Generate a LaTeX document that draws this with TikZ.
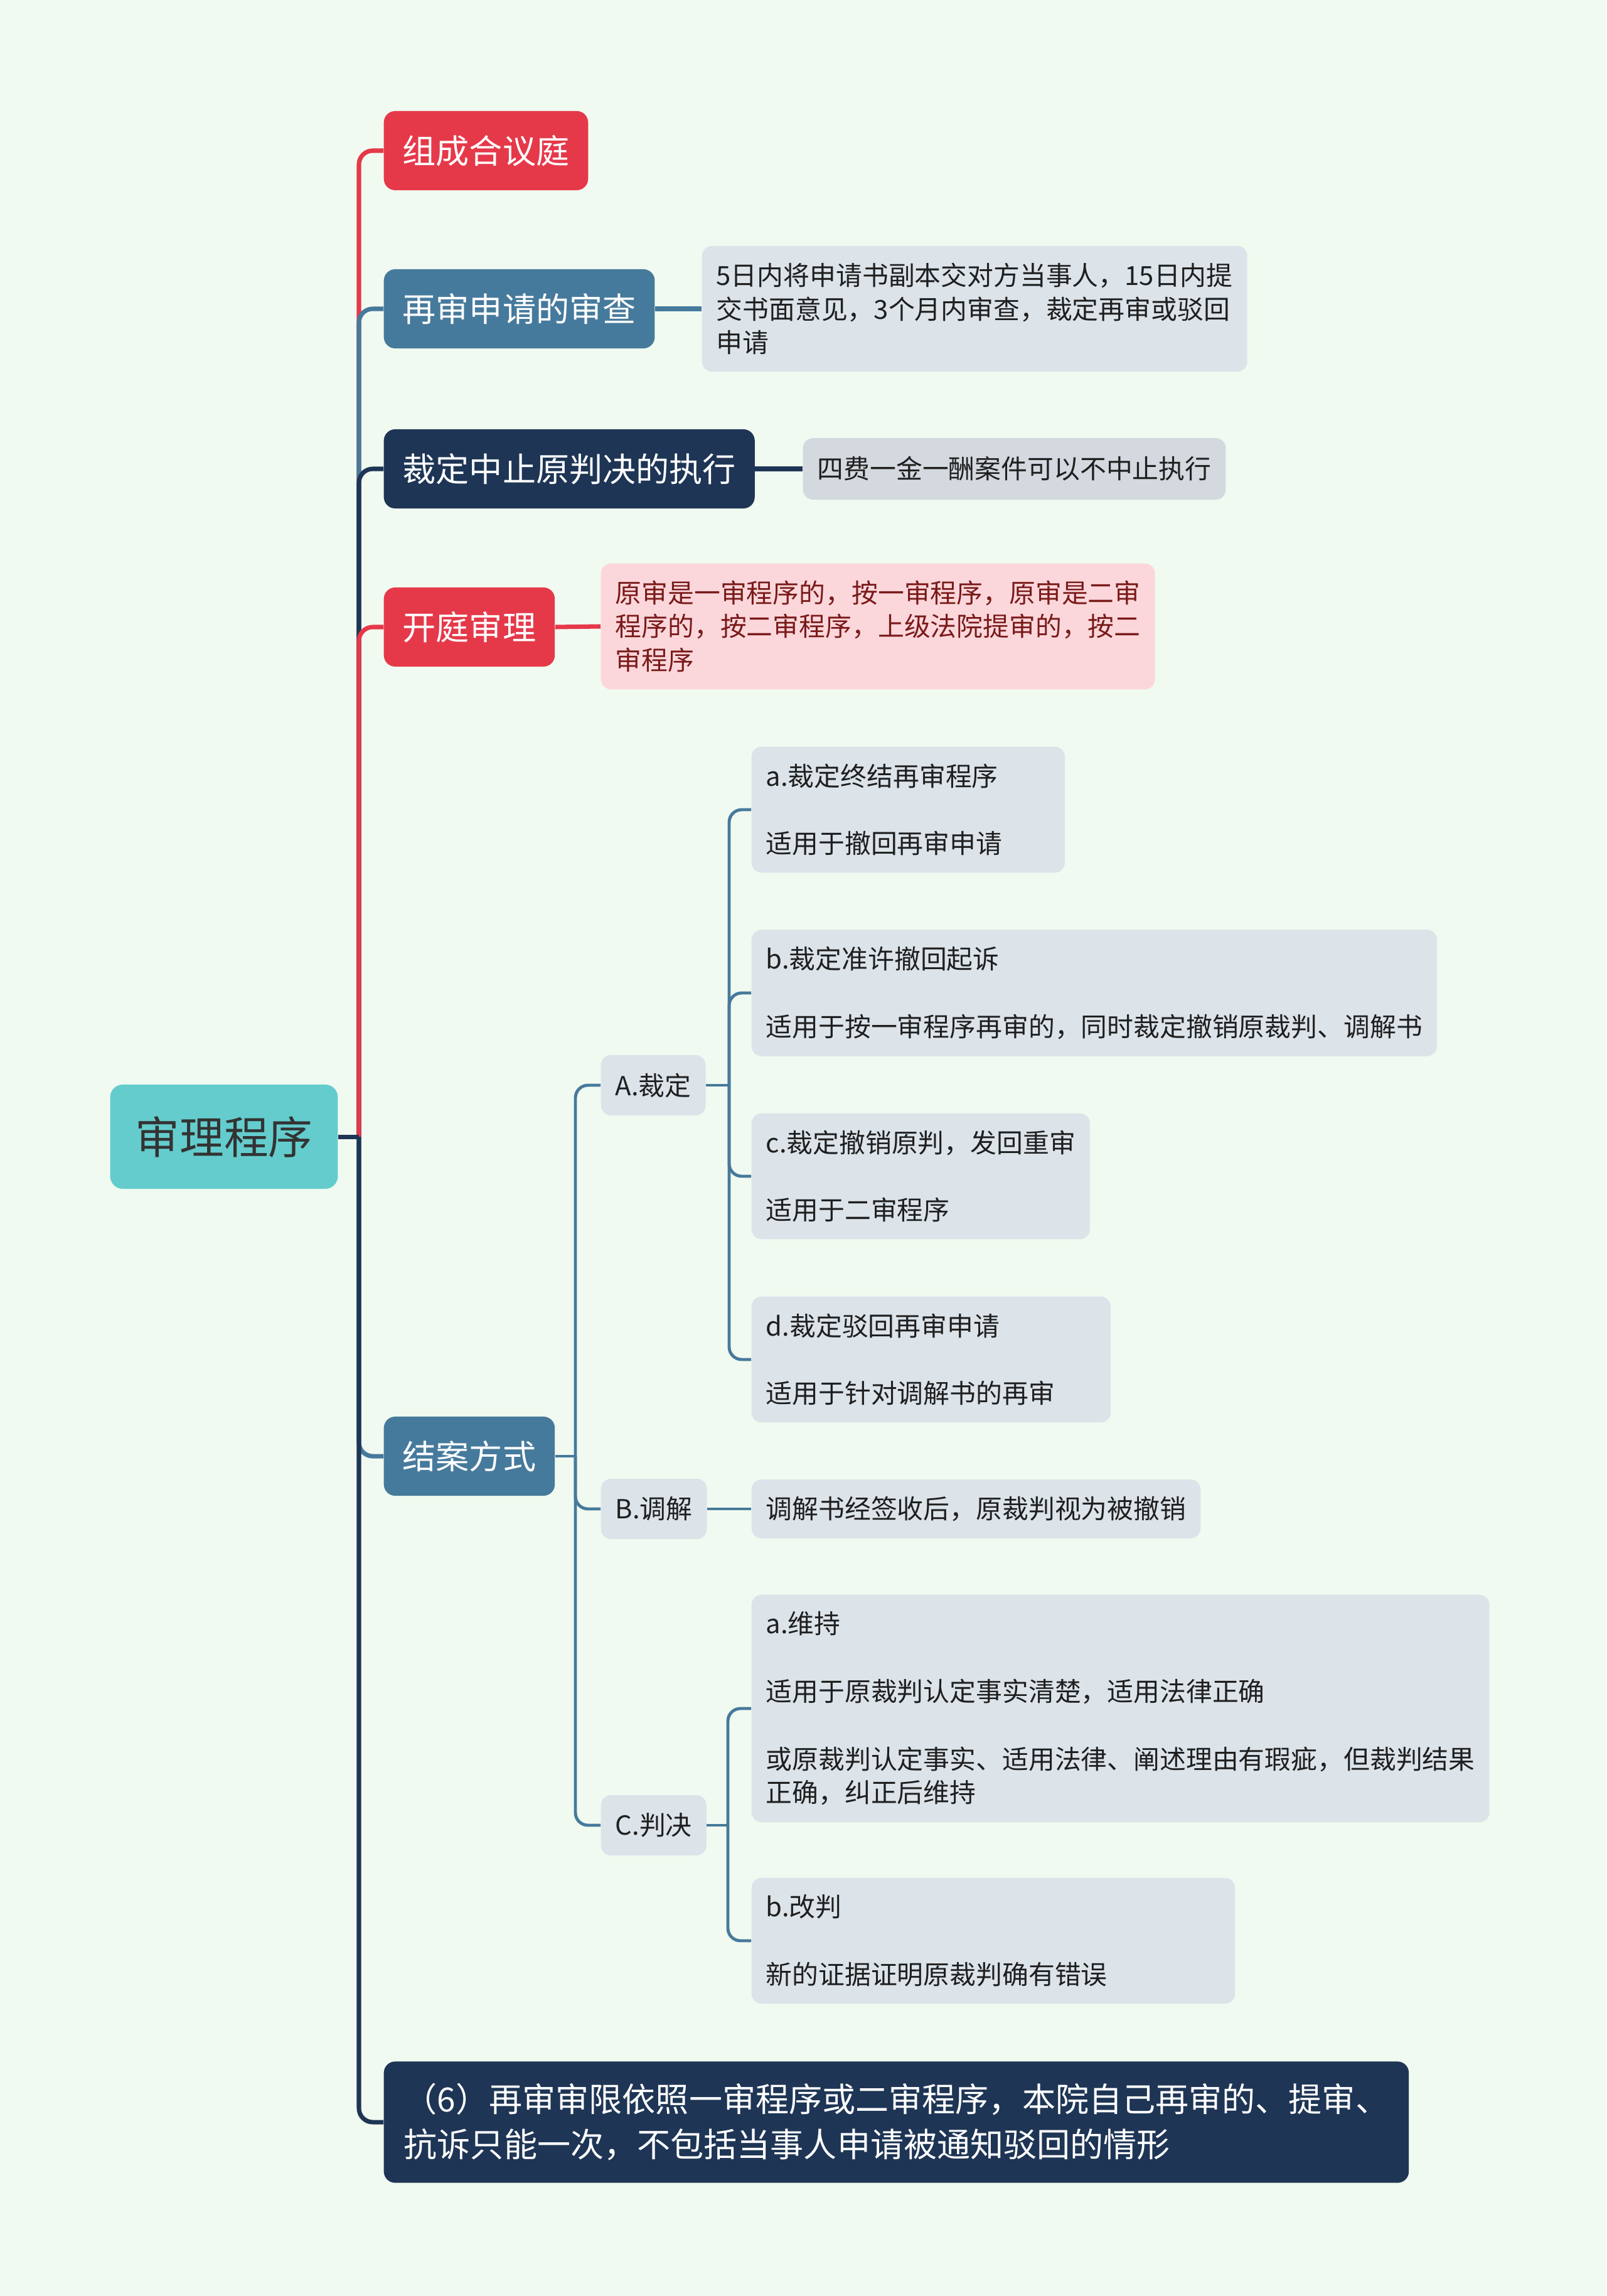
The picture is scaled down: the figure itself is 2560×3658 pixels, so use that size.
\documentclass[tikz,border=0pt]{standalone}
\usepackage{fontspec}
\setmainfont{Noto Sans CJK SC}
\usetikzlibrary{positioning}

\definecolor{bgmint}{HTML}{F1FAF0}
\definecolor{redbr}{HTML}{E5394A}
\definecolor{bluebr}{HTML}{467A9C}
\definecolor{navybr}{HTML}{1E3555}
\definecolor{rootteal}{HTML}{64CCCD}
\definecolor{leafgray}{HTML}{DCE4EA}
\definecolor{leafgrey}{HTML}{D3D9DF}
\definecolor{leafpink}{HTML}{FBD7DB}
\definecolor{pinktext}{HTML}{7A1A1A}

\begin{document}
\begin{tikzpicture}[x=0.01cm, y=-0.01cm,
    root/.style={rectangle, rounded corners=0.2cm, fill=rootteal, text=black!80, minimum height=1.66cm, inner xsep=0.4cm, font=\fontsize{20.1}{24}\selectfont},
    topic/.style={rectangle, rounded corners=0.18cm, text=white, minimum height=1.26cm, inner xsep=0.3cm, font=\fontsize{15.1}{20.5}\selectfont, anchor=west},
    leaf/.style={rectangle, rounded corners=0.16cm, fill=leafgray, text=black!88, align=left, inner xsep=0.23cm, inner ysep=0.27cm, font=\fontsize{11.9}{15.3}\selectfont, anchor=west},
    tag/.style={leaf, minimum height=0.96cm, inner ysep=0pt},
    link/.style={line width=2pt, rounded corners=0.22cm},
    sublink/.style={line width=1.4pt, draw=bluebr, rounded corners=0.2cm}
]

\useasboundingbox[fill=bgmint] (0,0) rectangle (2560,3658);

% Root
\node[root] (root) at (357,1811) {审理程序};

% Main topics
\node[topic, fill=redbr] (panel) at (611,240) {组成合议庭};
\node[topic, fill=bluebr] (review) at (611,492) {再审申请的审查};
\node[topic, fill=navybr] (suspend) at (611,747) {裁定中止原判决的执行};
\node[topic, fill=redbr] (hearing) at (611,999) {开庭审理};
\node[topic, fill=bluebr] (closing) at (611,2320) {结案方式};
\node[topic, fill=navybr, align=left, inner ysep=0.35cm, inner xsep=0.32cm] (timelimit) at (611,3381) {（6）再审审限依照一审程序或二审程序，本院自己再审的、提审、\\抗诉只能一次，不包括当事人申请被通知驳回的情形};

% Notes of the main topics
\node[leaf] (reviewnote) at (1118,492) {5日内将申请书副本交对方当事人，15日内提\\交书面意见，3个月内审查，裁定再审或驳回\\申请};
\node[leaf, fill=leafgrey, minimum height=0.98cm, inner ysep=0pt] (suspendnote) at (1279,747) {四费一金一酬案件可以不中止执行};
\node[leaf, fill=leafpink, text=pinktext] (hearingnote) at (957,998) {原审是一审程序的，按一审程序，原审是二审\\程序的，按二审程序，上级法院提审的，按二\\审程序};

% Ways of closing
\node[tag] (ruling) at (957,1729) {A.裁定};
\node[tag] (mediation) at (957,2404) {B.调解};
\node[tag] (verdict) at (957,2908) {C.判决};

\node[leaf, text width=4.53cm] (ra) at (1197,1290) {a.裁定终结再审程序\\[15.3pt]适用于撤回再审申请};
\node[leaf] (rb) at (1197,1582) {b.裁定准许撤回起诉\\[15.3pt]适用于按一审程序再审的，同时裁定撤销原裁判、调解书};
\node[leaf] (rc) at (1197,1874) {c.裁定撤销原判，发回重审\\[15.3pt]适用于二审程序};
\node[leaf, text width=5.26cm] (rd) at (1197,2166) {d.裁定驳回再审申请\\[15.3pt]适用于针对调解书的再审};
\node[leaf] (mednote) at (1197,2404) {调解书经签收后，原裁判视为被撤销};
\node[leaf] (va) at (1197,2722) {a.维持\\[15.3pt]适用于原裁判认定事实清楚，适用法律正确\\[15.3pt]或原裁判认定事实、适用法律、阐述理由有瑕疵，但裁判结果\\正确，纠正后维持};
\node[leaf, text width=7.24cm] (vb) at (1197,3092) {b.改判\\[15.3pt]新的证据证明原裁判确有错误};

% Connectors - main topics
\coordinate (trunk) at (572,1811);
\draw[link, draw=redbr] (trunk) |- (panel.west);
\draw[link, draw=bluebr] (trunk) |- (review.west);
\draw[link, draw=navybr] (trunk) |- (suspend.west);
\draw[link, draw=redbr] (trunk) |- (hearing.west);
\draw[link, draw=bluebr] (trunk) |- (closing.west);
\draw[link, draw=navybr] (trunk) |- (timelimit.west);
\draw[link, draw=navybr] (root.east) -- (trunk);

% Connectors - notes
\draw[link, draw=bluebr] (review.east) -- (reviewnote.west);
\draw[link, draw=navybr] (suspend.east) -- (suspendnote.west);
\draw[link, draw=redbr] (hearing.east) -- (hearingnote.west);

% Connectors - closing subtree
\coordinate (jclosing) at (917,2320);
\draw[sublink] (closing.east) -- (jclosing);
\foreach \n in {ruling, mediation, verdict}
    \draw[sublink] (jclosing) |- (\n.west);

\coordinate (jruling) at (1162,1729);
\draw[sublink] (ruling.east) -- (jruling);
\foreach \n in {ra, rb, rc, rd}
    \draw[sublink] (jruling) |- (\n.west);

\draw[sublink] (mediation.east) -- (mednote.west);

\coordinate (jverdict) at (1160,2908);
\draw[sublink] (verdict.east) -- (jverdict);
\foreach \n in {va, vb}
    \draw[sublink] (jverdict) |- (\n.west);

\end{tikzpicture}
\end{document}
